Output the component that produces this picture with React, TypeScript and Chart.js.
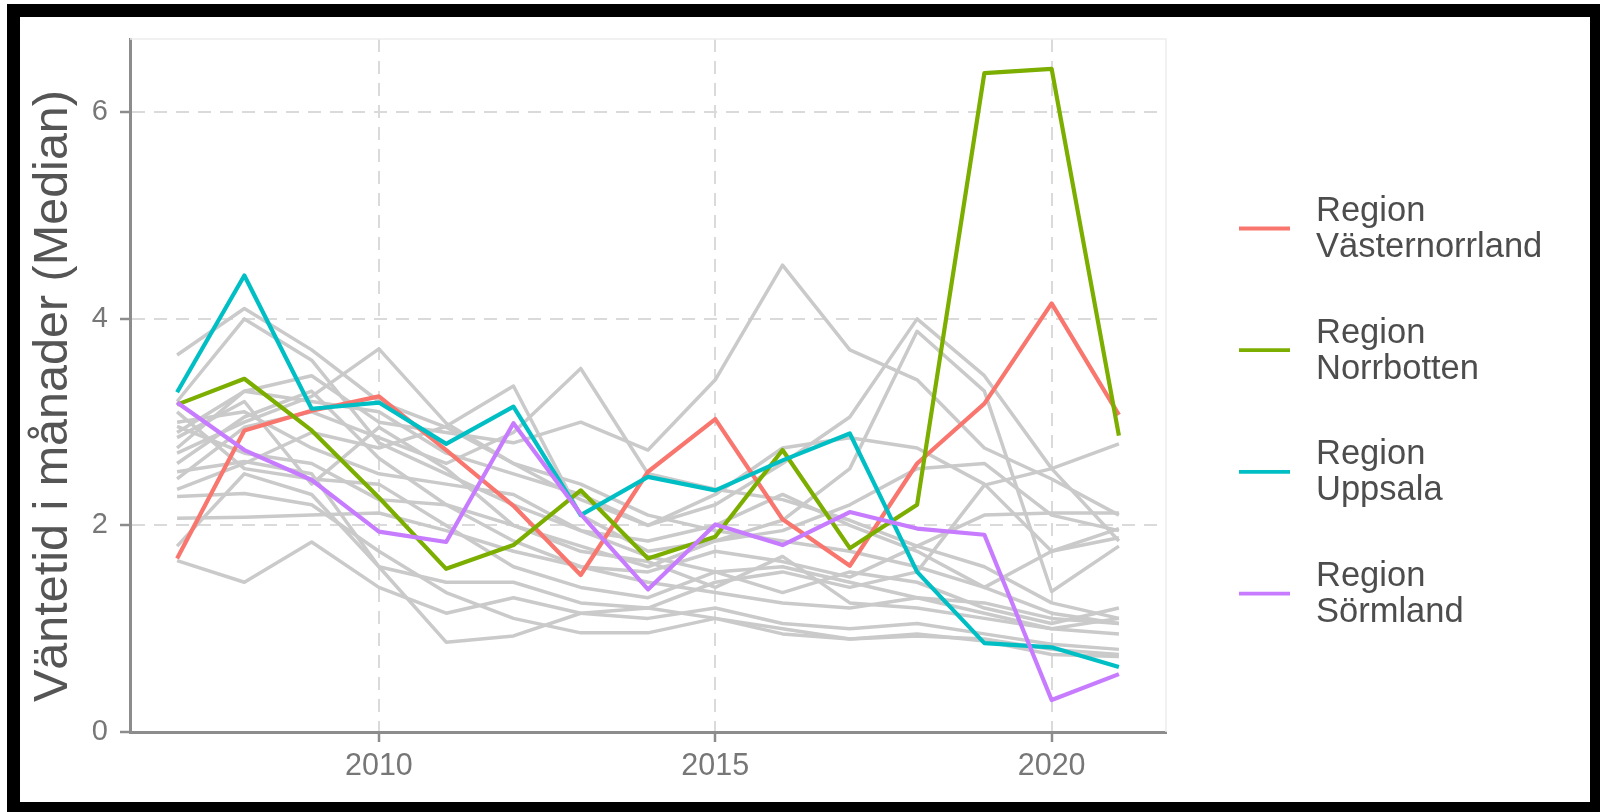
import React, { useEffect, useRef } from "react";
import { Chart, registerables } from "chart.js";

Chart.register(...registerables);

// ---------- data ----------
const years = [2007, 2008, 2009, 2010, 2011, 2012, 2013, 2014, 2015, 2016, 2017, 2018, 2019, 2020, 2021];
const xTickValues = [2010, 2015, 2020];
const yTickValues = [0, 2, 4, 6];
const yAxisTitle = "Väntetid i månader (Median)";

const highlightNames = ["Region Västernorrland", "Region Norrbotten", "Region Uppsala", "Region Sörmland"];
const highlightColors = ["#F8766D", "#7CAE00", "#00BFC4", "#C77CFF"];

const vasternorrland = [1.68, 2.92, 3.11, 3.25, 2.73, 2.19, 1.52, 2.52, 3.03, 2.06, 1.61, 2.6, 3.18, 4.15, 3.07];
const norrbotten = [3.17, 3.42, 2.92, 2.27, 1.58, 1.81, 2.34, 1.68, 1.89, 2.73, 1.78, 2.2, 6.38, 6.42, 2.87];
const uppsala = [3.29, 4.42, 3.13, 3.19, 2.79, 3.15, 2.1, 2.47, 2.34, 2.63, 2.89, 1.55, 0.86, 0.82, 0.63];
const sormland = [3.19, 2.73, 2.44, 1.94, 1.84, 2.99, 2.11, 1.38, 2.01, 1.81, 2.13, 1.97, 1.91, 0.31, 0.56];

const gray01 = [3.65, 4.1, 3.7, 3.2, 2.95, 2.6, 2.4, 2.1, 1.95, 1.85, 1.75, 1.6, 1.4, 1.15, 1.05];
const gray02 = [3.2, 4.0, 3.6, 2.8, 2.5, 2.2, 1.95, 1.7, 1.55, 1.6, 1.45, 1.3, 1.15, 1.0, 0.95];
const gray03 = [2.9, 3.3, 3.45, 3.0, 2.9, 2.8, 3.0, 2.73, 3.41, 4.52, 3.7, 3.41, 2.75, 2.45, 2.1];
const gray04 = [2.75, 3.3, 3.2, 3.1, 2.7, 2.5, 2.3, 2.0, 2.2, 2.6, 3.05, 4.0, 3.45, 2.55, 1.85];
const gray05 = [2.6, 3.05, 3.3, 2.65, 2.2, 2.0, 1.8, 1.6, 1.85, 2.05, 2.55, 3.88, 3.3, 1.36, 1.8];
const gray06 = [2.45, 2.95, 3.1, 2.85, 2.6, 2.9, 3.52, 2.5, 2.35, 2.25, 2.05, 1.8, 1.6, 1.25, 1.1];
const gray07 = [2.35, 2.6, 2.9, 2.75, 2.96, 3.35, 2.1, 1.75, 1.85, 1.95, 2.2, 2.55, 2.6, 2.1, 1.95];
const gray08 = [2.7, 3.0, 3.25, 3.71, 2.99, 2.6, 2.25, 2.0, 2.3, 2.75, 2.85, 2.75, 2.4, 1.75, 1.88];
const gray09 = [1.66, 1.45, 1.84, 1.4, 1.15, 1.3, 1.15, 1.1, 1.2, 1.05, 1.0, 1.05, 0.95, 0.85, 0.8];
const gray10 = [2.07, 2.08, 2.1, 2.12, 1.95, 1.75, 1.6, 1.45, 1.35, 1.25, 1.2, 1.3, 1.25, 1.1, 1.05];
const gray11 = [1.8, 2.5, 2.3, 1.6, 1.45, 1.45, 1.25, 1.2, 1.45, 1.55, 1.4, 1.55, 2.39, 2.55, 2.79];
const gray12 = [2.28, 2.31, 2.2, 1.75, 1.35, 1.1, 0.96, 0.96, 1.1, 1.0, 0.9, 0.93, 0.9, 0.8, 0.75];
const gray13 = [2.52, 2.62, 2.5, 1.6, 0.87, 0.93, 1.15, 1.2, 1.1, 0.95, 0.9, 0.95, 0.88, 0.75, 0.73];
const gray14 = [3.0, 3.1, 2.75, 2.5, 2.4, 2.3, 1.95, 1.85, 2.0, 2.3, 2.0, 1.75, 1.4, 1.75, 1.97];
const gray15 = [2.96, 2.7, 2.6, 2.25, 2.2, 1.85, 1.6, 1.55, 1.75, 1.65, 1.5, 1.8, 2.1, 2.12, 2.12];
const gray16 = [3.1, 2.55, 2.45, 2.4, 2.0, 1.6, 1.4, 1.3, 1.55, 1.35, 1.55, 1.45, 1.2, 1.05, 1.2];
const gray17 = [2.85, 3.2, 2.4, 2.95, 2.55, 2.0, 1.75, 1.65, 1.4, 1.7, 1.25, 1.2, 1.1, 1.0, 1.1];

const highlightSeries = [vasternorrland, norrbotten, uppsala, sormland];
const graySeries = [gray01, gray02, gray03, gray04, gray05, gray06, gray07, gray08, gray09, gray10, gray11, gray12, gray13, gray14, gray15, gray16, gray17];

// ---------- styles ----------
const FONT = '"Liberation Sans", Arial, sans-serif';
const GRAY_LINE = "#cacaca";
const AXIS_COLOR = "#8c8c8c";
const GRID_COLOR = "#dadada";

const toPoints = (vals: number[]) => vals.map((v, i) => ({ x: years[i], y: v }));

const panelPlugin = {
  id: "panelBorder",
  beforeDatasetsDraw(chart: any) {
    const { ctx, chartArea } = chart;
    ctx.save();
    ctx.strokeStyle = "#ededed";
    ctx.lineWidth = 1.5;
    ctx.beginPath();
    ctx.moveTo(chartArea.left, chartArea.top);
    ctx.lineTo(chartArea.right, chartArea.top);
    ctx.lineTo(chartArea.right, chartArea.bottom);
    ctx.stroke();
    ctx.restore();
  },
};

const titlePlugin = {
  id: "yTitle",
  afterDraw(chart: any) {
    const ctx = chart.ctx;
    ctx.save();
    ctx.translate(54, 396);
    ctx.rotate(-Math.PI / 2);
    ctx.fillStyle = "#555555";
    ctx.font = `48.5px ${FONT}`;
    ctx.textAlign = "center";
    ctx.textBaseline = "middle";
    ctx.fillText(yAxisTitle, 0, 0);
    ctx.restore();
  },
};

const legendPlugin = {
  id: "customLegend",
  afterDraw(chart: any) {
    const ctx = chart.ctx;
    ctx.save();
    highlightNames.forEach((name, i) => {
      const cy = 228.5 + i * 121.7;
      ctx.strokeStyle = highlightColors[i];
      ctx.lineWidth = 3.8;
      ctx.lineCap = "butt";
      ctx.beginPath();
      ctx.moveTo(1239, cy);
      ctx.lineTo(1290, cy);
      ctx.stroke();
      const sp = name.indexOf(" ");
      const first = name.slice(0, sp);
      const second = name.slice(sp + 1);
      ctx.fillStyle = "#4d4d4d";
      ctx.font = `34.5px ${FONT}`;
      ctx.textAlign = "left";
      ctx.textBaseline = "middle";
      ctx.fillText(first, 1316, cy - 17);
      ctx.fillText(second, 1316, cy + 19);
    });
    ctx.restore();
  },
};

export default function App() {
  const ref = useRef<HTMLCanvasElement>(null);

  useEffect(() => {
    const datasets: any[] = [];
    // highlighted series first so they are drawn on top (Sörmland top-most)
    [3, 2, 1, 0].forEach((i) => {
      datasets.push({
        label: highlightNames[i],
        data: toPoints(highlightSeries[i]),
        borderColor: highlightColors[i],
        borderWidth: 4.2,
        pointRadius: 0,
        tension: 0,
        borderJoinStyle: "round",
      });
    });
    graySeries.forEach((s, i) => {
      datasets.push({
        label: "gray" + i,
        data: toPoints(s),
        borderColor: GRAY_LINE,
        borderWidth: 3.5,
        pointRadius: 0,
        tension: 0,
        borderJoinStyle: "round",
      });
    });

    const chart = new Chart(ref.current as HTMLCanvasElement, {
      type: "line",
      data: { datasets },
      options: {
        animation: false,
        responsive: false,
        events: [],
        layout: { padding: { left: 0, top: 39, right: 434, bottom: 0 } },
        plugins: { legend: { display: false }, tooltip: { enabled: false } },
        scales: {
          x: {
            type: "linear",
            min: 2006.3,
            max: 2021.7,
            afterFit: (s: any) => {
              s.height = 80;
            },
            afterBuildTicks: (s: any) => {
              s.ticks = xTickValues.map((v) => ({ value: v }));
            },
            ticks: {
              callback: (v: any) => String(v),
              font: { family: FONT, size: 30.5 },
              color: "#777777",
              padding: 6,
              maxRotation: 0,
              autoSkip: false,
            },
            grid: {
              color: GRID_COLOR,
              lineWidth: 2,
              tickLength: 10,
              tickColor: AXIS_COLOR,
              tickWidth: 2.5,
            },
            border: { display: true, color: AXIS_COLOR, width: 3, dash: [13, 9] },
          },
          y: {
            type: "linear",
            min: 0,
            max: 6.71,
            afterFit: (s: any) => {
              s.width = 130;
            },
            afterBuildTicks: (s: any) => {
              s.ticks = yTickValues.map((v) => ({ value: v }));
            },
            ticks: {
              callback: (v: any) => String(v),
              font: { family: FONT, size: 29 },
              color: "#777777",
              padding: 12,
            },
            grid: {
              color: GRID_COLOR,
              lineWidth: 2,
              tickLength: 10,
              tickColor: AXIS_COLOR,
              tickWidth: 2.5,
            },
            border: { display: true, color: AXIS_COLOR, width: 3, dash: [13, 9] },
            title: { display: false },
          },
        },
      } as any,
      plugins: [panelPlugin, legendPlugin, titlePlugin],
    });
    return () => chart.destroy();
  }, []);

  return (
    <div
      style={{
        position: "fixed",
        left: 0,
        top: 0,
        width: 1600,
        height: 812,
        overflow: "hidden",
        background: "#ffffff",
      }}
    >
      <canvas
        ref={ref}
        width={1600}
        height={812}
        style={{ position: "absolute", left: 0, top: 0, width: 1600, height: 812 }}
      />
      <div
        style={{
          position: "absolute",
          left: 7,
          top: 4,
          width: 1596,
          height: 811,
          border: "13px solid #000",
          boxSizing: "border-box",
          pointerEvents: "none",
        }}
      />
    </div>
  );
}
